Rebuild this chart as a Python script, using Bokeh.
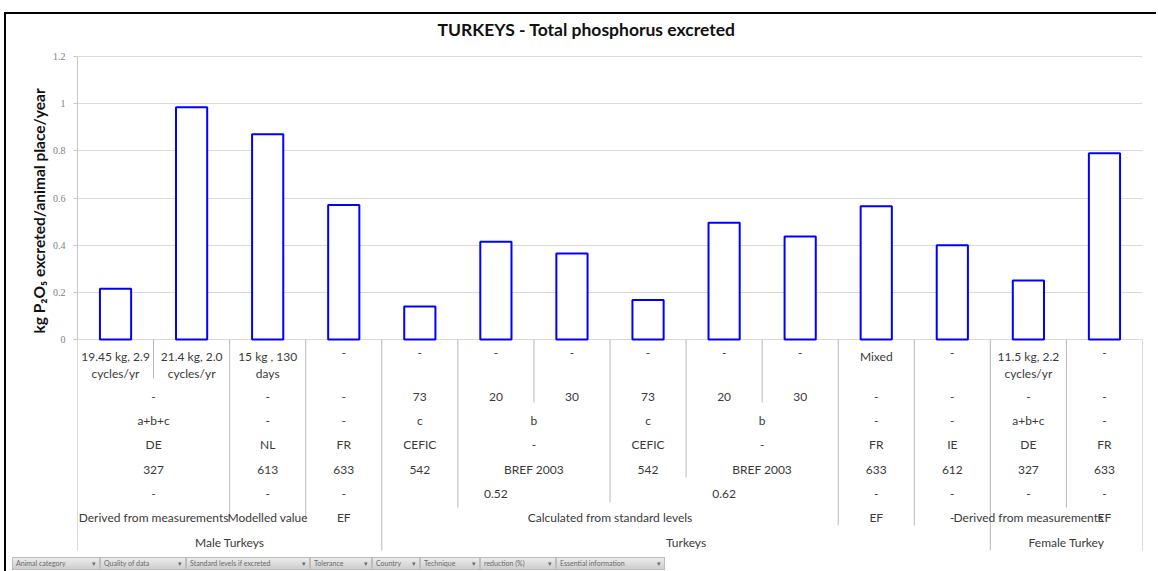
from bokeh.plotting import figure
from bokeh.models import Range1d, FixedTicker, NumeralTickFormatter, Title, ColumnDataSource, Div
from bokeh.layouts import column, row as hrow
from bokeh.core.properties import value
from bokeh.embed import file_html
from bokeh.resources import INLINE

# ---------------- data ----------------
TITLE = "TURKEYS - Total phosphorus excreted"
Y_LABEL = "kg P\u2082O\u2085 excreted/animal place/year"
Y_TICKS = [0, 0.2, 0.4, 0.6, 0.8, 1.0, 1.2]
VALUES = [0.215, 0.985, 0.87, 0.57, 0.14, 0.415, 0.365,
          0.168, 0.495, 0.437, 0.565, 0.40, 0.25, 0.79]

# multi-level category axis, innermost level first: (label, first cat, last cat)
LEVEL_1 = ["19.45 kg, 2.9\ncycles/yr", "21.4 kg, 2.0\ncycles/yr", "15 kg , 130\ndays",
           "-", "-", "-", "-", "-", "-", "-", "Mixed", "-", "11.5 kg, 2.2\ncycles/yr", "-"]
LEVEL_2 = [("-", 0, 1), ("-", 2, 2), ("-", 3, 3), ("73", 4, 4), ("20", 5, 5), ("30", 6, 6),
           ("73", 7, 7), ("20", 8, 8), ("30", 9, 9), ("-", 10, 10), ("-", 11, 11),
           ("-", 12, 12), ("-", 13, 13)]
LEVEL_3 = [("a+b+c", 0, 1), ("-", 2, 2), ("-", 3, 3), ("c", 4, 4), ("b", 5, 6), ("c", 7, 7),
           ("b", 8, 9), ("-", 10, 10), ("-", 11, 11), ("a+b+c", 12, 12), ("-", 13, 13)]
LEVEL_4 = [("DE", 0, 1), ("NL", 2, 2), ("FR", 3, 3), ("CEFIC", 4, 4), ("-", 5, 6),
           ("CEFIC", 7, 7), ("-", 8, 9), ("FR", 10, 10), ("IE", 11, 11), ("DE", 12, 12),
           ("FR", 13, 13)]
LEVEL_5 = [("327", 0, 1), ("613", 2, 2), ("633", 3, 3), ("542", 4, 4), ("BREF 2003", 5, 6),
           ("542", 7, 7), ("BREF 2003", 8, 9), ("633", 10, 10), ("612", 11, 11),
           ("327", 12, 12), ("633", 13, 13)]
LEVEL_6 = [("-", 0, 1), ("-", 2, 2), ("-", 3, 3), ("0.52", 4, 6), ("0.62", 7, 9),
           ("-", 10, 10), ("-", 11, 11), ("-", 12, 12), ("-", 13, 13)]
LEVEL_7 = [("Derived from measurements", 0, 1), ("Modelled value", 2, 2), ("EF", 3, 3),
           ("Calculated from standard levels", 4, 9), ("EF", 10, 10), ("-", 11, 11),
           ("Derived from measurements", 12, 12), ("EF", 13, 13)]
LEVEL_8 = [("Male Turkeys", 0, 3), ("Turkeys", 4, 11), ("Female Turkey", 12, 13)]

FIELD_BUTTONS = ["Animal category", "Quality of data", "Standard levels if excreted",
                 "Tolerance", "Country", "Technique", "reduction (%)",
                 "Essential information"]

# ---------------- layout constants ----------------
N = len(VALUES)
PX_PER_UNIT = 235.8            # vertical pixels per y unit
ZERO_PX = 339                  # page row of y = 0
FONT = value("Lato")
TXT = "#3a3a3a"


def row(py):
    """page row (px) -> y value, for the category table under the axis"""
    return (ZERO_PX - py) / PX_PER_UNIT


# ---------------- chart ----------------
p = figure(width=1150, height=541, output_backend="svg", toolbar_location=None,
           x_range=Range1d(0, N), y_range=Range1d(row(555), row(42)),
           x_axis_type=None, min_border_left=71, min_border_right=14,
           min_border_top=28, min_border_bottom=0, margin=0)
p.outline_line_color = None

ticker = FixedTicker(ticks=Y_TICKS)
ax = p.yaxis[0]
ax.ticker = ticker
ax.formatter = NumeralTickFormatter(format="0.[0]")
ax.bounds = (0, 1.2)
ax.axis_line_color = "#c8c8c8"
ax.major_tick_line_color = "#c8c8c8"
ax.major_tick_out = 4
ax.major_tick_in = 0
ax.minor_tick_line_color = None
ax.major_label_standoff = 8
ax.major_label_text_font = "Liberation Serif"
ax.major_label_text_font_size = "10px"
ax.major_label_text_color = "#808080"

p.ygrid.ticker = ticker
p.ygrid.grid_line_color = "#d9d9d9"
p.xgrid.grid_line_color = None

p.vbar(x=[i + 0.5 for i in range(N)], top=VALUES, bottom=0, width=0.41,
       fill_color="white", line_color="#0000ff", line_width=2)

p.title.text = TITLE
p.title.align = "left"
p.title.offset = 360
p.title.text_font = "Lato"
p.title.text_font_size = "17.5px"
p.title.text_font_style = "bold"
p.title.text_color = "#111111"
p.title.standoff = 5

ylab = Title(text=Y_LABEL, align="left", offset=222, text_font="Lato",
             text_font_size="15.5px", text_font_style="bold", text_color="#111111",
             standoff=4)
p.add_layout(ylab, "left")

# ---------------- category table ----------------
BOUNDARY_ENDS = [550, 378, 520, 520, 550, 507, 402, 502, 477, 402, 525, 525, 550, 507, 550]
p.segment(x0=list(range(N + 1)), y0=[0] * (N + 1), x1=list(range(N + 1)),
          y1=[row(v) for v in BOUNDARY_ENDS], line_color="#b8b8b8", line_width=1)

p.text(x=[i + 0.5 for i in range(N)], y=[row(348)] * N, text=LEVEL_1,
       text_align="center", text_baseline="top", text_font=FONT,
       text_font_size="12px", text_color=TXT, text_line_height=1.15)

ROW_Y = [396, 420, 444, 469, 493, 517, 542]
for level, ry in zip([LEVEL_2, LEVEL_3, LEVEL_4, LEVEL_5, LEVEL_6, LEVEL_7, LEVEL_8], ROW_Y):
    src = ColumnDataSource(dict(
        x=[(s + e + 1) / 2 for _, s, e in level],
        y=[row(ry)] * len(level),
        text=[t for t, _, _ in level]))
    p.text(x="x", y="y", text="text", source=src, text_align="center",
           text_baseline="middle", text_font=FONT, text_font_size="12px",
           text_color=TXT)

# ---------------- pivot field buttons, frame rules ----------------
BTN_WIDTHS = [88, 86, 124, 62, 48, 60, 76, 109]
btn_style = ("display:inline-block;box-sizing:border-box;height:13px;line-height:11px;"
             "font-family:Lato,sans-serif;font-size:7px;color:#6a6a6a;padding:0 3px;"
             "background:linear-gradient(#ececec,#cdcdcd);border:1px solid #bdbdbd;"
             "white-space:nowrap;overflow:hidden;")
buttons = "".join(
    f'<span style="{btn_style}width:{w}px">{name} <span style="float:right">&#9662;</span></span>'
    for name, w in zip(FIELD_BUTTONS, BTN_WIDTHS))
btn_div = Div(text=f'<div style="margin:2px 0 0 6px;font-size:0">{buttons}</div>',
              width=1150, height=16, margin=0)

left_rule = Div(text="", width=2, height=559, margin=(12, 0, 0, 4),
                styles={"background-color": "black"})
top_rule = Div(text="", width=1150, height=2, margin=(12, 0, 0, 0),
               styles={"background-color": "black"})

layout = hrow(left_rule, column(top_rule, p, btn_div, spacing=0), spacing=0)
open("out.html", "w").write(file_html(layout, INLINE))
